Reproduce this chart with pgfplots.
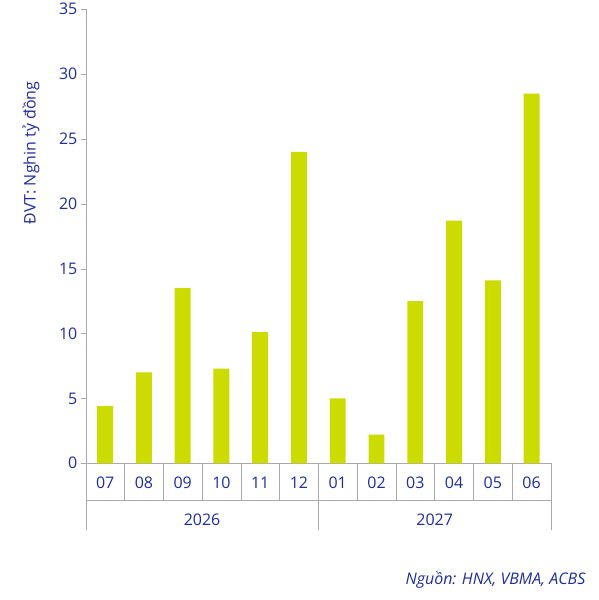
\documentclass[border=0pt]{standalone}
\usepackage{pgfplots}
\pgfplotsset{compat=1.18}
\usepackage{fontspec}
\setmainfont{Open Sans}
\definecolor{bar}{RGB}{204,220,0}
\definecolor{txt}{RGB}{30,45,160}
\definecolor{ln}{RGB}{170,170,170}
\begin{document}
\begin{tikzpicture}[x=1pt,y=1pt]
\path (0,0) rectangle (600,600);
\begin{axis}[at={(86pt,137pt)},anchor=south west,scale only axis,
  width=466pt,height=455pt,
  xmin=-0.5,xmax=11.5,ymin=0,ymax=35,ytick={0,5,...,35},
  xtick={0,...,11},xticklabels={07,08,09,10,11,12,01,02,03,04,05,06},
  axis x line*=bottom, axis y line*=left,
  axis line style={ln},
  x tick style={draw=none}, y tick style={ln},
  tick align=outside, major tick length=5pt,
  x tick label style={yshift=-5pt},
  ticklabel style={font=\fontsize{16}{19}\selectfont,text=txt},
  /pgf/number format/assume math mode=true,
  clip=false]
\addplot[ybar,bar width=16pt,fill=bar,draw=none] coordinates {
(0,4.4)(1,7.0)(2,13.5)(3,7.3)(4,10.1)(5,24.0)(6,5.0)(7,2.2)(8,12.5)(9,18.7)(10,14.1)(11,28.5)};
\end{axis}
\foreach \j in {0,...,12} \draw[ln] ({86+38.833*\j},137) -- ({86+38.833*\j},100);
\foreach \j in {0,6,12} \draw[ln] ({86+38.833*\j},100) -- ({86+38.833*\j},70);
\draw[ln] (86,100) -- (552,100);
\node[text=txt,font=\fontsize{16}{19}\selectfont] at (202.5,80) {2026};
\node[text=txt,font=\fontsize{16}{19}\selectfont] at (435.5,80) {2027};
\node[text=txt,font=\fontsize{16}{19}\selectfont,rotate=90] at (31,448) {ĐVT: Nghin tỷ đồng};
\node[text=txt,font=\fontsize{16}{19}\selectfont\itshape,anchor=east] at (590,20) {Nguồn: HNX, VBMA, ACBS};
\end{tikzpicture}
\end{document}
